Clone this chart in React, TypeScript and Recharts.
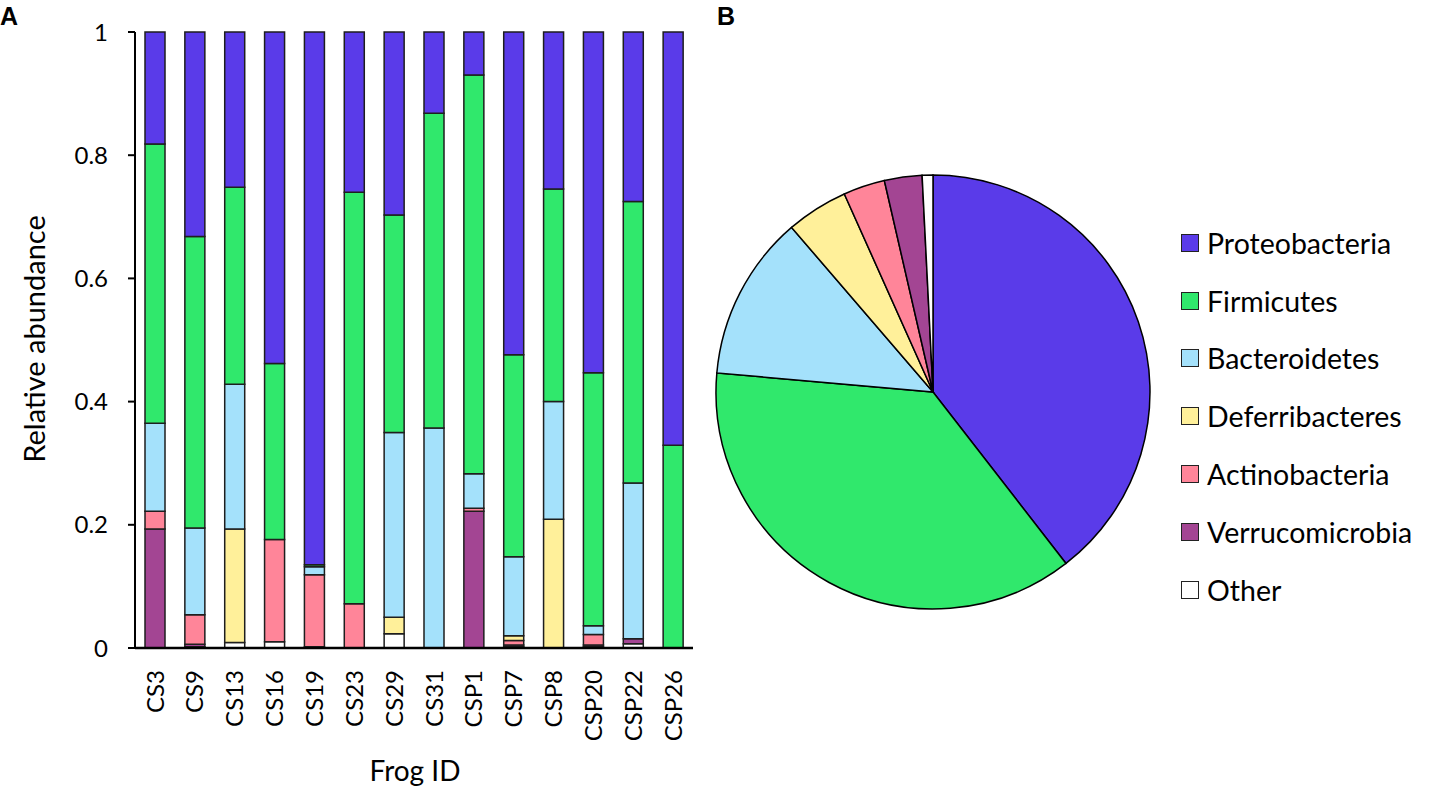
import React from 'react'
import {
  BarChart, Bar, XAxis, YAxis, PieChart, Pie, Cell, Legend,
} from 'recharts'

// stack order, bottom to top
const phyla = ['Other', 'Verrucomicrobia', 'Actinobacteria', 'Deferribacteres', 'Bacteroidetes', 'Firmicutes', 'Proteobacteria']
const colors = ['#ffffff', '#a34593', '#ff8599', '#fff09a', '#a4e1fb', '#30e86c', '#5a3be9']

const frogs = ['CS3', 'CS9', 'CS13', 'CS16', 'CS19', 'CS23', 'CS29', 'CS31', 'CSP1', 'CSP7', 'CSP8', 'CSP20', 'CSP22', 'CSP26']

const other = [0, 0.002, 0.009, 0.01, 0.002, 0, 0.023, 0, 0, 0.002, 0, 0.002, 0.007, 0]
const verruco = [0.193, 0.004, 0, 0, 0, 0, 0, 0, 0.222, 0.003, 0, 0.003, 0.008, 0]
const actino = [0.029, 0.048, 0, 0.166, 0.117, 0.072, 0, 0, 0.005, 0.007, 0, 0.017, 0, 0]
const deferri = [0, 0, 0.184, 0, 0, 0, 0.027, 0, 0, 0.008, 0.209, 0, 0, 0]
const bactero = [0.143, 0.141, 0.235, 0, 0.013, 0, 0.3, 0.357, 0.056, 0.128, 0.191, 0.014, 0.253, 0]
const firmi = [0.453, 0.473, 0.32, 0.286, 0.003, 0.668, 0.353, 0.511, 0.647, 0.328, 0.345, 0.411, 0.457, 0.329]
const proteo = [0.182, 0.332, 0.252, 0.538, 0.865, 0.26, 0.297, 0.132, 0.07, 0.524, 0.255, 0.553, 0.275, 0.671]

const yTicks = [0, 0.2, 0.4, 0.6, 0.8, 1]

// overall composition (pie), clockwise from 12 o'clock
const pieNames = ['Proteobacteria', 'Firmicutes', 'Bacteroidetes', 'Deferribacteres', 'Actinobacteria', 'Verrucomicrobia', 'Other']
const pieValues = [39.5, 36.9, 12.3, 4.6, 3.1, 2.8, 0.8]
const pieColors = ['#5a3be9', '#30e86c', '#a4e1fb', '#fff09a', '#ff8599', '#a34593', '#ffffff']

const series = [other, verruco, actino, deferri, bactero, firmi, proteo]
const barData = frogs.map((id, i) => {
  const row: Record<string, any> = { id }
  phyla.forEach((p, k) => { row[p] = series[k][i] })
  return row
})
const pieData = pieNames.map((name, i) => ({ name, value: pieValues[i] }))

const FONT = 'Lato, "Open Sans", sans-serif'

function FrogTick({ x, y, payload }: any) {
  return (
    <text
      transform={`translate(${x},${y + 22}) rotate(-90)`}
      textAnchor="end"
      dy="0.36em"
      fontSize={24}
      fontFamily={FONT}
      fill="#000"
    >
      {payload.value}
    </text>
  )
}

function PhylaLegend() {
  return (
    <div style={{ fontFamily: FONT, fontSize: 28.5, color: '#000' }}>
      {pieNames.map((name, i) => (
        <div key={name} style={{ display: 'flex', alignItems: 'center', height: 57.8 }}>
          <span style={{
            width: 16, height: 16, background: pieColors[i], border: '1.5px solid #222',
            marginRight: 8, display: 'inline-block', flexShrink: 0,
          }} />
          <span style={{ whiteSpace: 'nowrap' }}>{name}</span>
        </div>
      ))}
    </div>
  )
}

export default function App() {
  return (
    <div style={{ position: 'absolute', left: 0, top: 0, width: 1430, height: 793, background: '#fff', overflow: 'hidden' }}>
      <div style={{ position: 'absolute', left: 0, top: 2, fontFamily: '"Liberation Sans", Arial, sans-serif', fontWeight: 700, fontSize: 25 }}>A</div>
      <div style={{ position: 'absolute', left: 717, top: 2, fontFamily: '"Liberation Sans", Arial, sans-serif', fontWeight: 700, fontSize: 25 }}>B</div>

      <div style={{ position: 'absolute', left: 0, top: 0 }}>
        <BarChart
          width={720}
          height={793}
          data={barData}
          margin={{ top: 32, right: 27, left: 75, bottom: 45 }}
          barCategoryGap={0}
        >
          <XAxis
            dataKey="id"
            height={100}
            tickLine={false}
            tickSize={0}
            tickMargin={0}
            interval={0}
            axisLine={{ stroke: '#000', strokeWidth: 2.5 }}
            tick={<FrogTick />}
          />
          <YAxis
            width={60}
            domain={[0, 1]}
            ticks={yTicks}
            tickSize={7}
            tickMargin={20}
            axisLine={{ stroke: '#000', strokeWidth: 2 }}
            tickLine={{ stroke: '#000', strokeWidth: 2 }}
            tick={{ fontSize: 24, fontFamily: FONT, fill: '#000' }}
          />
          {phyla.map((p, k) => (
            <Bar
              key={p}
              dataKey={p}
              stackId="a"
              fill={colors[k]}
              stroke="#1e1e1e"
              strokeWidth={1.5}
              barSize={20}
              isAnimationActive={false}
            />
          ))}
        </BarChart>
      </div>

      <div style={{
        position: 'absolute', left: 33, top: 339, transform: 'translate(-50%, -50%) rotate(-90deg)',
        fontFamily: FONT, fontSize: 29, whiteSpace: 'nowrap', color: '#000',
      }}>
        Relative abundance
      </div>
      <div style={{
        position: 'absolute', left: 415, top: 770, transform: 'translate(-50%, -50%)',
        fontFamily: FONT, fontSize: 28, whiteSpace: 'nowrap', color: '#000',
      }}>
        Frog ID
      </div>

      <div style={{ position: 'absolute', left: 700, top: 0 }}>
        <PieChart width={730} height={793} margin={{ top: 0, right: 0, bottom: 0, left: 0 }}>
          <Pie
            data={pieData}
            dataKey="value"
            nameKey="name"
            cx={233}
            cy={392}
            outerRadius={217}
            startAngle={90}
            endAngle={-270}
            stroke="#000"
            strokeWidth={1.5}
            isAnimationActive={false}
          >
            {pieData.map((d, i) => <Cell key={d.name} fill={pieColors[i]} />)}
          </Pie>
          <Legend
            layout="vertical"
            content={() => <PhylaLegend />}
            wrapperStyle={{ position: 'absolute', left: 481, top: 214, width: 260 }}
          />
        </PieChart>
      </div>
    </div>
  )
}
